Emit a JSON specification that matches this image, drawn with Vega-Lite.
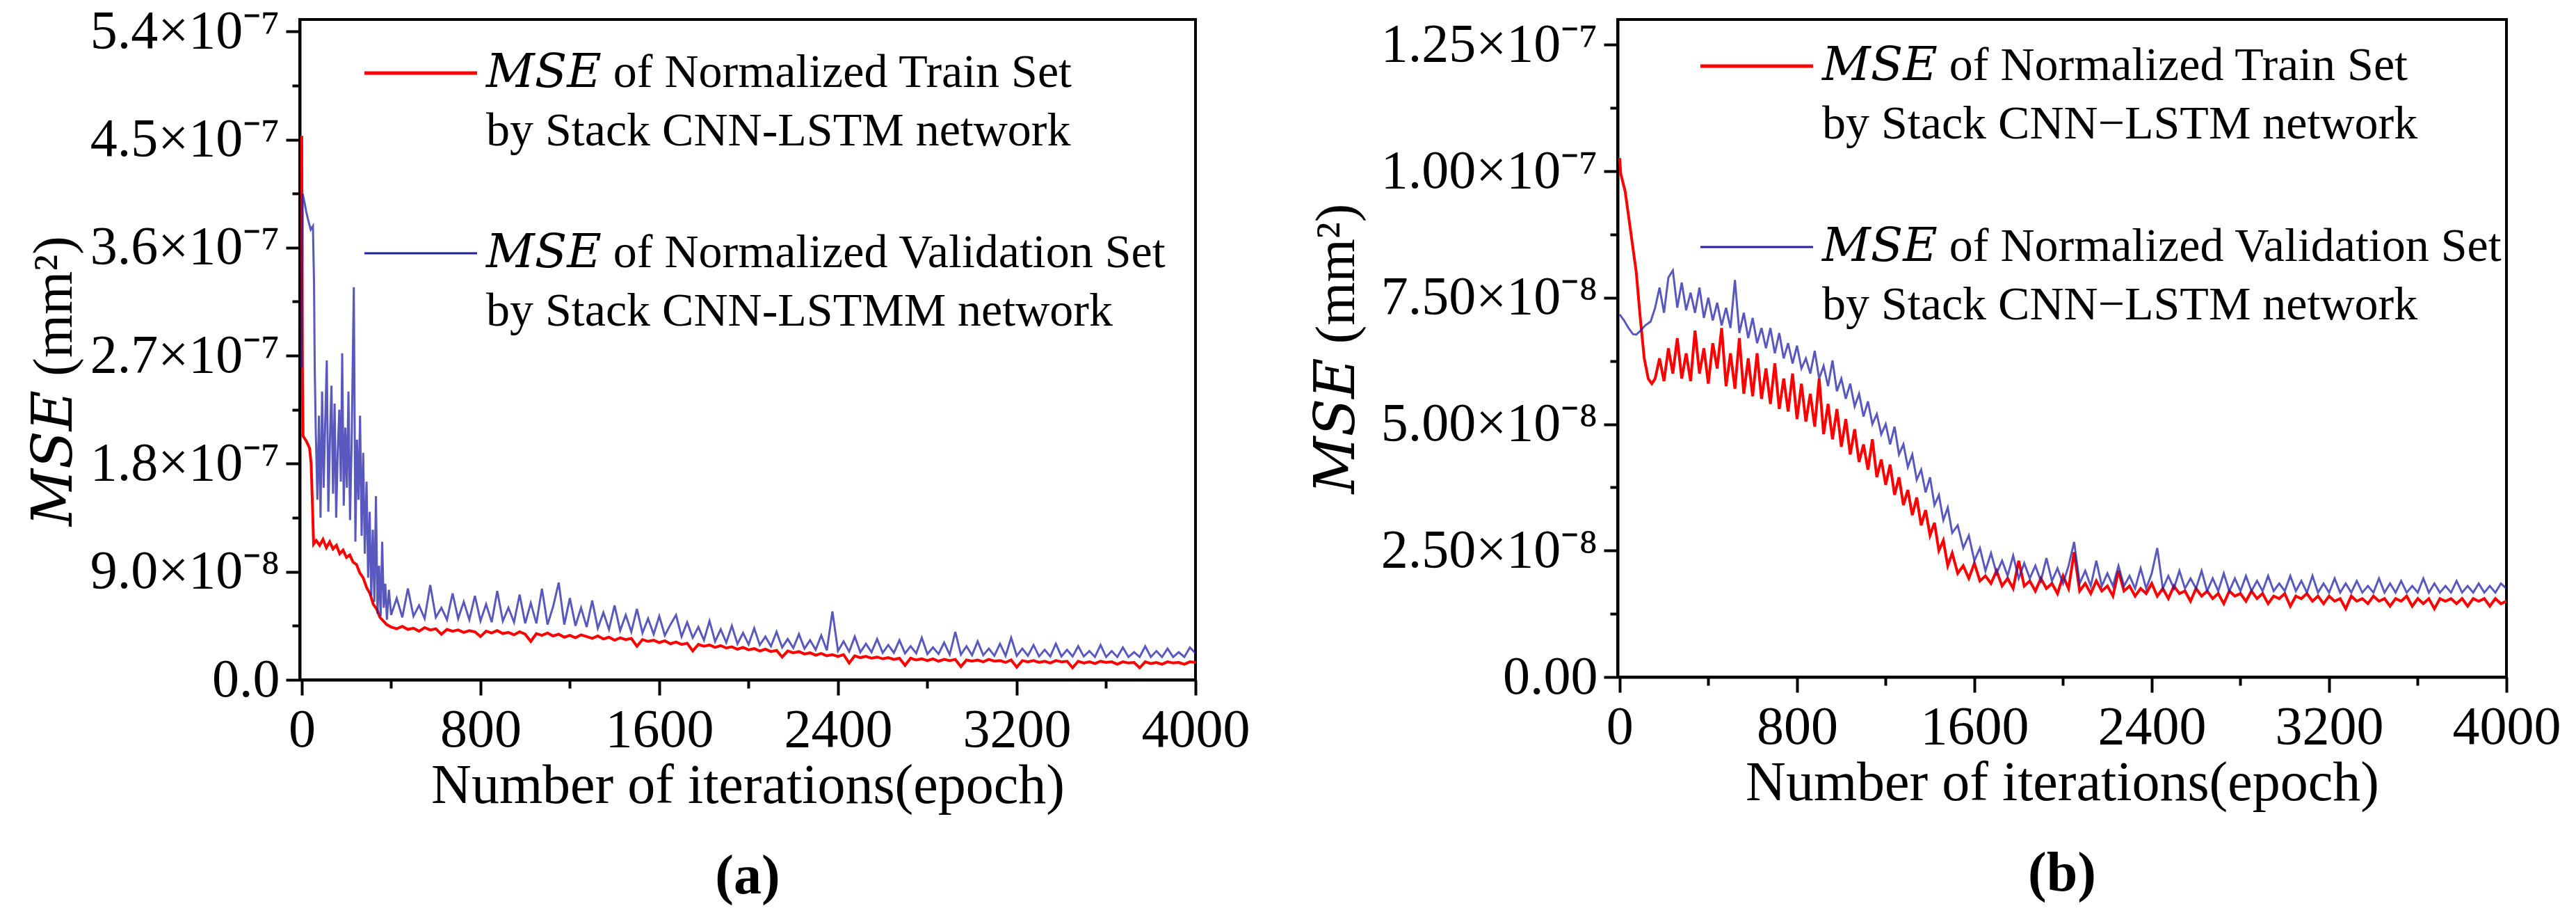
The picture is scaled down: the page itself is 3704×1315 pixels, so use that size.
{
  "$schema": "https://vega.github.io/schema/vega-lite/v6.json",
  "background": "white",
  "padding": {"left": 35, "top": 4, "right": 10, "bottom": 5},
  "bounds": "flush",
  "spacing": 607,
  "config": {
    "font": "Liberation Serif",
    "view": {"stroke": "black", "strokeWidth": 4},
    "axis": {
      "grid": false, "domainColor": "black", "domainWidth": 4,
      "tickColor": "black", "tickWidth": 4,
      "labelFont": "Liberation Serif", "labelFontSize": 78, "labelColor": "black", "labelLimit": 2000,
      "titleFont": "Liberation Serif, DejaVu Serif", "titleFontSize": 80, "titleFontWeight": "normal", "titleColor": "black",
      "labelFlush": false, "labelOverlap": false, "labelBound": false
    },
    "legend": {
      "orient": "none", "direction": "vertical", "padding": 0, "symbolType": "stroke", "symbolSize": 26244,
      "labelFont": "Liberation Serif, DejaVu Serif", "labelFontSize": 68, "labelColor": "black", "labelLimit": 3000,
      "labelOffset": 60, "labelBaseline": "middle"
    }
  },
  "resolve": {"scale": {"color": "independent"}, "legend": {"color": "independent"}},
  "datasets": {
    "a_train": [
      {"epoch":0,"mse":45.3e-8},{"epoch":3,"mse":26.0e-8},{"epoch":6,"mse":20.3e-8},{"epoch":20,"mse":19.9e-8},{"epoch":35,"mse":19.3e-8},{"epoch":42,"mse":18.0e-8},{"epoch":48,"mse":14.5e-8},{"epoch":53,"mse":11.3e-8},{"epoch":65,"mse":11.6e-8},{"epoch":80,"mse":11.2e-8},{"epoch":95,"mse":11.7e-8},{"epoch":110,"mse":11.0e-8},{"epoch":125,"mse":11.5e-8},{"epoch":140,"mse":10.9e-8},{"epoch":155,"mse":11.2e-8},{"epoch":170,"mse":10.5e-8},{"epoch":185,"mse":10.8e-8},{"epoch":200,"mse":10.2e-8},{"epoch":215,"mse":10.4e-8},{"epoch":230,"mse":9.8e-8},{"epoch":245,"mse":9.6e-8},{"epoch":260,"mse":8.9e-8},{"epoch":275,"mse":8.5e-8},{"epoch":290,"mse":7.7e-8},{"epoch":305,"mse":7.2e-8},{"epoch":320,"mse":6.3e-8},{"epoch":335,"mse":5.9e-8},{"epoch":350,"mse":5.2e-8},{"epoch":365,"mse":4.9e-8},{"epoch":380,"mse":4.6e-8},
      {"epoch":400,"mse":4.40e-8},{"epoch":425,"mse":4.25e-8},{"epoch":450,"mse":4.45e-8},{"epoch":475,"mse":4.20e-8},{"epoch":500,"mse":4.30e-8},{"epoch":525,"mse":4.05e-8},{"epoch":550,"mse":4.35e-8},{"epoch":575,"mse":4.15e-8},{"epoch":600,"mse":4.25e-8},{"epoch":625,"mse":3.80e-8},{"epoch":650,"mse":4.20e-8},{"epoch":675,"mse":4.05e-8},{"epoch":700,"mse":4.15e-8},{"epoch":725,"mse":3.95e-8},{"epoch":750,"mse":4.10e-8},{"epoch":775,"mse":4.00e-8},{"epoch":800,"mse":3.60e-8},{"epoch":825,"mse":4.05e-8},{"epoch":850,"mse":3.90e-8},{"epoch":875,"mse":4.10e-8},{"epoch":900,"mse":3.85e-8},{"epoch":925,"mse":3.95e-8},{"epoch":950,"mse":3.75e-8},{"epoch":975,"mse":4.00e-8},
      {"epoch":1000,"mse":3.80e-8},{"epoch":1025,"mse":3.20e-8},{"epoch":1050,"mse":3.85e-8},{"epoch":1075,"mse":3.70e-8},{"epoch":1100,"mse":3.90e-8},{"epoch":1125,"mse":3.65e-8},{"epoch":1150,"mse":3.80e-8},{"epoch":1175,"mse":3.55e-8},{"epoch":1200,"mse":3.70e-8},{"epoch":1225,"mse":3.50e-8},{"epoch":1250,"mse":3.75e-8},{"epoch":1275,"mse":3.60e-8},{"epoch":1300,"mse":3.45e-8},{"epoch":1325,"mse":3.65e-8},{"epoch":1350,"mse":3.40e-8},{"epoch":1375,"mse":3.55e-8},{"epoch":1400,"mse":3.30e-8},{"epoch":1425,"mse":3.50e-8},{"epoch":1450,"mse":3.35e-8},{"epoch":1475,"mse":3.45e-8},{"epoch":1500,"mse":2.80e-8},{"epoch":1525,"mse":3.35e-8},{"epoch":1550,"mse":3.20e-8},{"epoch":1575,"mse":3.30e-8},{"epoch":1600,"mse":3.10e-8},{"epoch":1625,"mse":3.25e-8},{"epoch":1650,"mse":3.00e-8},{"epoch":1675,"mse":3.15e-8},{"epoch":1700,"mse":2.95e-8},{"epoch":1725,"mse":3.05e-8},{"epoch":1750,"mse":2.40e-8},{"epoch":1775,"mse":2.95e-8},{"epoch":1800,"mse":2.80e-8},{"epoch":1825,"mse":2.90e-8},{"epoch":1850,"mse":2.70e-8},{"epoch":1875,"mse":2.85e-8},{"epoch":1900,"mse":2.65e-8},{"epoch":1925,"mse":2.75e-8},{"epoch":1950,"mse":2.55e-8},{"epoch":1975,"mse":2.70e-8},
      {"epoch":2000,"mse":2.50e-8},{"epoch":2025,"mse":2.60e-8},{"epoch":2050,"mse":2.40e-8},{"epoch":2075,"mse":2.55e-8},{"epoch":2100,"mse":2.35e-8},{"epoch":2125,"mse":2.45e-8},{"epoch":2150,"mse":1.90e-8},{"epoch":2175,"mse":2.40e-8},{"epoch":2200,"mse":2.25e-8},{"epoch":2225,"mse":2.35e-8},{"epoch":2250,"mse":2.15e-8},{"epoch":2275,"mse":2.25e-8},{"epoch":2300,"mse":2.05e-8},{"epoch":2325,"mse":2.20e-8},{"epoch":2350,"mse":2.00e-8},{"epoch":2375,"mse":2.10e-8},{"epoch":2400,"mse":1.95e-8},{"epoch":2425,"mse":2.10e-8},{"epoch":2450,"mse":1.40e-8},{"epoch":2475,"mse":2.00e-8},{"epoch":2500,"mse":1.85e-8},{"epoch":2525,"mse":1.95e-8},{"epoch":2550,"mse":1.80e-8},{"epoch":2575,"mse":1.90e-8},{"epoch":2600,"mse":1.75e-8},{"epoch":2625,"mse":1.85e-8},{"epoch":2650,"mse":1.70e-8},{"epoch":2675,"mse":1.80e-8},{"epoch":2700,"mse":1.20e-8},{"epoch":2725,"mse":1.80e-8},{"epoch":2750,"mse":1.65e-8},{"epoch":2775,"mse":1.75e-8},{"epoch":2800,"mse":1.60e-8},{"epoch":2825,"mse":1.75e-8},{"epoch":2850,"mse":1.55e-8},{"epoch":2875,"mse":1.70e-8},{"epoch":2900,"mse":1.60e-8},{"epoch":2925,"mse":1.70e-8},{"epoch":2950,"mse":1.10e-8},{"epoch":2975,"mse":1.65e-8},
      {"epoch":3000,"mse":1.55e-8},{"epoch":3025,"mse":1.65e-8},{"epoch":3050,"mse":1.50e-8},{"epoch":3075,"mse":1.70e-8},{"epoch":3100,"mse":1.55e-8},{"epoch":3125,"mse":1.60e-8},{"epoch":3150,"mse":1.45e-8},{"epoch":3175,"mse":1.65e-8},{"epoch":3200,"mse":1.05e-8},{"epoch":3225,"mse":1.60e-8},{"epoch":3250,"mse":1.50e-8},{"epoch":3275,"mse":1.60e-8},{"epoch":3300,"mse":1.45e-8},{"epoch":3325,"mse":1.55e-8},{"epoch":3350,"mse":1.40e-8},{"epoch":3375,"mse":1.60e-8},{"epoch":3400,"mse":1.50e-8},{"epoch":3425,"mse":1.55e-8},{"epoch":3450,"mse":1.00e-8},{"epoch":3475,"mse":1.55e-8},{"epoch":3500,"mse":1.40e-8},{"epoch":3525,"mse":1.50e-8},{"epoch":3550,"mse":1.35e-8},{"epoch":3575,"mse":1.55e-8},{"epoch":3600,"mse":1.45e-8},{"epoch":3625,"mse":1.50e-8},{"epoch":3650,"mse":1.30e-8},{"epoch":3675,"mse":1.50e-8},{"epoch":3700,"mse":1.40e-8},{"epoch":3725,"mse":1.45e-8},{"epoch":3750,"mse":1.00e-8},{"epoch":3775,"mse":1.50e-8},{"epoch":3800,"mse":1.35e-8},{"epoch":3825,"mse":1.45e-8},{"epoch":3850,"mse":1.30e-8},{"epoch":3875,"mse":1.50e-8},{"epoch":3900,"mse":1.40e-8},{"epoch":3925,"mse":1.45e-8},{"epoch":3950,"mse":1.30e-8},{"epoch":3975,"mse":1.50e-8},{"epoch":4000,"mse":1.45e-8}
    ],
    "a_val": [
      {"epoch":0,"mse":26.0e-8},{"epoch":4,"mse":40.5e-8},{"epoch":12,"mse":39.8e-8},{"epoch":20,"mse":39.0e-8},{"epoch":30,"mse":38.2e-8},{"epoch":40,"mse":37.5e-8},{"epoch":50,"mse":37.8e-8},{"epoch":55,"mse":33.0e-8},{"epoch":58,"mse":26.0e-8},{"epoch":63,"mse":20.5e-8},{"epoch":70,"mse":15.0e-8},{"epoch":77,"mse":22.0e-8},{"epoch":84,"mse":13.5e-8},{"epoch":91,"mse":24.0e-8},{"epoch":98,"mse":16.0e-8},{"epoch":105,"mse":21.5e-8},{"epoch":112,"mse":26.6e-8},{"epoch":119,"mse":14.0e-8},{"epoch":126,"mse":20.0e-8},{"epoch":133,"mse":24.5e-8},{"epoch":140,"mse":15.5e-8},{"epoch":147,"mse":23.0e-8},{"epoch":154,"mse":13.5e-8},{"epoch":161,"mse":19.0e-8},{"epoch":168,"mse":22.5e-8},{"epoch":175,"mse":16.5e-8},{"epoch":181,"mse":27.2e-8},{"epoch":188,"mse":14.5e-8},{"epoch":195,"mse":21.0e-8},{"epoch":202,"mse":16.0e-8},{"epoch":209,"mse":24.0e-8},{"epoch":216,"mse":13.3e-8},{"epoch":223,"mse":19.5e-8},{"epoch":233,"mse":32.7e-8},{"epoch":240,"mse":11.5e-8},{"epoch":247,"mse":20.0e-8},{"epoch":254,"mse":15.0e-8},{"epoch":261,"mse":22.0e-8},{"epoch":268,"mse":12.0e-8},{"epoch":275,"mse":18.9e-8},{"epoch":282,"mse":10.5e-8},{"epoch":290,"mse":16.5e-8},{"epoch":297,"mse":8.5e-8},{"epoch":304,"mse":14.0e-8},{"epoch":311,"mse":7.0e-8},{"epoch":318,"mse":12.5e-8},{"epoch":325,"mse":6.5e-8},{"epoch":332,"mse":15.3e-8},{"epoch":339,"mse":5.5e-8},{"epoch":346,"mse":9.5e-8},{"epoch":353,"mse":5.3e-8},{"epoch":360,"mse":11.5e-8},{"epoch":367,"mse":6.0e-8},{"epoch":374,"mse":8.0e-8},{"epoch":381,"mse":5.0e-8},{"epoch":390,"mse":7.5e-8},{"epoch":400,"mse":5.4e-8},
      {"epoch":425,"mse":6.8e-8},{"epoch":450,"mse":5.2e-8},{"epoch":475,"mse":7.6e-8},{"epoch":500,"mse":5.3e-8},{"epoch":525,"mse":6.2e-8},{"epoch":550,"mse":5.1e-8},{"epoch":575,"mse":7.9e-8},{"epoch":600,"mse":5.2e-8},{"epoch":625,"mse":6.0e-8},{"epoch":650,"mse":5.0e-8},{"epoch":675,"mse":7.2e-8},{"epoch":700,"mse":5.1e-8},{"epoch":725,"mse":6.5e-8},{"epoch":750,"mse":5.0e-8},{"epoch":775,"mse":7.0e-8},{"epoch":800,"mse":4.9e-8},{"epoch":825,"mse":6.3e-8},{"epoch":850,"mse":4.8e-8},{"epoch":875,"mse":7.4e-8},{"epoch":900,"mse":4.9e-8},{"epoch":925,"mse":6.0e-8},{"epoch":950,"mse":4.8e-8},{"epoch":975,"mse":7.1e-8},
      {"epoch":1000,"mse":4.7e-8},{"epoch":1025,"mse":6.4e-8},{"epoch":1050,"mse":4.7e-8},{"epoch":1075,"mse":7.6e-8},{"epoch":1100,"mse":4.6e-8},{"epoch":1125,"mse":6.1e-8},{"epoch":1150,"mse":8.1e-8},{"epoch":1175,"mse":4.6e-8},{"epoch":1200,"mse":6.8e-8},{"epoch":1225,"mse":4.5e-8},{"epoch":1250,"mse":6.0e-8},{"epoch":1275,"mse":4.4e-8},{"epoch":1300,"mse":6.6e-8},{"epoch":1325,"mse":4.3e-8},{"epoch":1350,"mse":5.6e-8},{"epoch":1375,"mse":4.2e-8},{"epoch":1400,"mse":6.2e-8},{"epoch":1425,"mse":4.1e-8},{"epoch":1450,"mse":5.4e-8},{"epoch":1475,"mse":4.0e-8},{"epoch":1500,"mse":5.9e-8},{"epoch":1525,"mse":3.9e-8},{"epoch":1550,"mse":5.1e-8},{"epoch":1575,"mse":3.8e-8},{"epoch":1600,"mse":5.3e-8},{"epoch":1625,"mse":3.7e-8},{"epoch":1650,"mse":4.6e-8},{"epoch":1675,"mse":5.4e-8},{"epoch":1700,"mse":3.6e-8},{"epoch":1725,"mse":4.8e-8},{"epoch":1750,"mse":3.5e-8},{"epoch":1775,"mse":4.4e-8},{"epoch":1800,"mse":3.3e-8},{"epoch":1825,"mse":4.9e-8},{"epoch":1850,"mse":3.2e-8},{"epoch":1875,"mse":4.2e-8},{"epoch":1900,"mse":3.1e-8},{"epoch":1925,"mse":4.5e-8},{"epoch":1950,"mse":3.0e-8},{"epoch":1975,"mse":3.9e-8},
      {"epoch":2000,"mse":2.95e-8},{"epoch":2025,"mse":4.3e-8},{"epoch":2050,"mse":2.9e-8},{"epoch":2075,"mse":3.6e-8},{"epoch":2100,"mse":2.8e-8},{"epoch":2125,"mse":4.0e-8},{"epoch":2150,"mse":2.7e-8},{"epoch":2175,"mse":3.4e-8},{"epoch":2200,"mse":2.65e-8},{"epoch":2225,"mse":3.8e-8},{"epoch":2250,"mse":2.6e-8},{"epoch":2275,"mse":3.3e-8},{"epoch":2300,"mse":2.5e-8},{"epoch":2325,"mse":3.7e-8},{"epoch":2350,"mse":2.45e-8},{"epoch":2375,"mse":5.7e-8},{"epoch":2400,"mse":2.4e-8},{"epoch":2425,"mse":3.2e-8},{"epoch":2450,"mse":2.35e-8},{"epoch":2475,"mse":3.6e-8},{"epoch":2500,"mse":2.3e-8},{"epoch":2525,"mse":3.0e-8},{"epoch":2550,"mse":2.3e-8},{"epoch":2575,"mse":3.4e-8},{"epoch":2600,"mse":2.25e-8},{"epoch":2625,"mse":2.9e-8},{"epoch":2650,"mse":2.25e-8},{"epoch":2675,"mse":3.3e-8},{"epoch":2700,"mse":2.2e-8},{"epoch":2725,"mse":2.8e-8},{"epoch":2750,"mse":2.2e-8},{"epoch":2775,"mse":3.5e-8},{"epoch":2800,"mse":2.15e-8},{"epoch":2825,"mse":2.7e-8},{"epoch":2850,"mse":2.15e-8},{"epoch":2875,"mse":3.1e-8},{"epoch":2900,"mse":2.1e-8},{"epoch":2925,"mse":4.0e-8},{"epoch":2950,"mse":2.1e-8},{"epoch":2975,"mse":2.8e-8},
      {"epoch":3000,"mse":2.05e-8},{"epoch":3025,"mse":3.2e-8},{"epoch":3050,"mse":2.05e-8},{"epoch":3075,"mse":2.6e-8},{"epoch":3100,"mse":2.0e-8},{"epoch":3125,"mse":3.0e-8},{"epoch":3150,"mse":2.0e-8},{"epoch":3175,"mse":3.5e-8},{"epoch":3200,"mse":2.0e-8},{"epoch":3225,"mse":2.6e-8},{"epoch":3250,"mse":2.0e-8},{"epoch":3275,"mse":2.9e-8},{"epoch":3300,"mse":1.95e-8},{"epoch":3325,"mse":2.5e-8},{"epoch":3350,"mse":1.95e-8},{"epoch":3375,"mse":3.0e-8},{"epoch":3400,"mse":1.95e-8},{"epoch":3425,"mse":2.5e-8},{"epoch":3450,"mse":1.95e-8},{"epoch":3475,"mse":2.8e-8},{"epoch":3500,"mse":1.95e-8},{"epoch":3525,"mse":2.4e-8},{"epoch":3550,"mse":1.9e-8},{"epoch":3575,"mse":2.9e-8},{"epoch":3600,"mse":1.9e-8},{"epoch":3625,"mse":2.4e-8},{"epoch":3650,"mse":1.9e-8},{"epoch":3675,"mse":2.7e-8},{"epoch":3700,"mse":1.9e-8},{"epoch":3725,"mse":2.3e-8},{"epoch":3750,"mse":1.9e-8},{"epoch":3775,"mse":2.8e-8},{"epoch":3800,"mse":1.9e-8},{"epoch":3825,"mse":2.4e-8},{"epoch":3850,"mse":1.9e-8},{"epoch":3875,"mse":2.6e-8},{"epoch":3900,"mse":1.9e-8},{"epoch":3925,"mse":2.3e-8},{"epoch":3950,"mse":1.9e-8},{"epoch":3975,"mse":2.7e-8},{"epoch":4000,"mse":2.2e-8}
    ],
    "b_train": [
      {"epoch":0,"mse":10.26e-8},{"epoch":5,"mse":9.95e-8},{"epoch":25,"mse":9.6e-8},{"epoch":50,"mse":8.8e-8},{"epoch":75,"mse":8.0e-8},{"epoch":93,"mse":7.1e-8},{"epoch":111,"mse":6.3e-8},{"epoch":129,"mse":5.9e-8},{"epoch":145,"mse":5.8e-8},
      {"epoch":160,"mse":5.9e-8},{"epoch":180,"mse":6.3e-8},{"epoch":200,"mse":5.85e-8},{"epoch":220,"mse":6.5e-8},{"epoch":240,"mse":6.0e-8},{"epoch":260,"mse":6.7e-8},{"epoch":280,"mse":5.9e-8},{"epoch":300,"mse":6.4e-8},{"epoch":320,"mse":5.85e-8},{"epoch":340,"mse":6.85e-8},{"epoch":360,"mse":6.0e-8},{"epoch":380,"mse":6.5e-8},{"epoch":400,"mse":5.8e-8},{"epoch":420,"mse":6.6e-8},{"epoch":440,"mse":6.1e-8},{"epoch":460,"mse":6.9e-8},{"epoch":480,"mse":5.75e-8},{"epoch":500,"mse":6.4e-8},{"epoch":520,"mse":5.7e-8},{"epoch":540,"mse":6.7e-8},{"epoch":560,"mse":5.6e-8},{"epoch":580,"mse":6.3e-8},{"epoch":600,"mse":5.55e-8},{"epoch":620,"mse":6.4e-8},{"epoch":640,"mse":5.5e-8},{"epoch":660,"mse":6.1e-8},{"epoch":680,"mse":5.4e-8},{"epoch":700,"mse":6.2e-8},{"epoch":720,"mse":5.3e-8},{"epoch":740,"mse":5.9e-8},{"epoch":760,"mse":5.25e-8},{"epoch":780,"mse":6.0e-8},{"epoch":800,"mse":5.1e-8},{"epoch":820,"mse":5.8e-8},{"epoch":840,"mse":5.05e-8},{"epoch":860,"mse":5.6e-8},{"epoch":880,"mse":4.95e-8},{"epoch":900,"mse":5.9e-8},{"epoch":920,"mse":4.8e-8},{"epoch":940,"mse":5.4e-8},{"epoch":960,"mse":4.7e-8},{"epoch":980,"mse":5.3e-8},
      {"epoch":1000,"mse":4.55e-8},{"epoch":1020,"mse":5.1e-8},{"epoch":1040,"mse":4.4e-8},{"epoch":1060,"mse":4.9e-8},{"epoch":1080,"mse":4.25e-8},{"epoch":1100,"mse":4.6e-8},{"epoch":1120,"mse":4.1e-8},{"epoch":1140,"mse":4.7e-8},{"epoch":1160,"mse":3.95e-8},{"epoch":1180,"mse":4.3e-8},{"epoch":1200,"mse":3.8e-8},{"epoch":1220,"mse":4.2e-8},{"epoch":1240,"mse":3.6e-8},{"epoch":1260,"mse":3.95e-8},{"epoch":1280,"mse":3.4e-8},{"epoch":1300,"mse":3.7e-8},{"epoch":1320,"mse":3.2e-8},{"epoch":1340,"mse":3.55e-8},{"epoch":1360,"mse":3.0e-8},{"epoch":1380,"mse":3.3e-8},{"epoch":1400,"mse":2.8e-8},{"epoch":1420,"mse":3.05e-8},{"epoch":1440,"mse":2.5e-8},{"epoch":1460,"mse":2.7e-8},{"epoch":1480,"mse":2.2e-8},{"epoch":1500,"mse":2.45e-8},
      {"epoch":1525,"mse":2.05e-8},{"epoch":1550,"mse":2.2e-8},{"epoch":1575,"mse":1.95e-8},{"epoch":1600,"mse":2.25e-8},{"epoch":1625,"mse":1.9e-8},{"epoch":1650,"mse":2.0e-8},{"epoch":1675,"mse":1.85e-8},{"epoch":1700,"mse":2.1e-8},{"epoch":1725,"mse":1.8e-8},{"epoch":1750,"mse":1.95e-8},{"epoch":1775,"mse":1.75e-8},{"epoch":1800,"mse":2.3e-8},{"epoch":1825,"mse":1.8e-8},{"epoch":1850,"mse":1.9e-8},{"epoch":1875,"mse":1.7e-8},{"epoch":1900,"mse":1.95e-8},{"epoch":1925,"mse":1.75e-8},{"epoch":1950,"mse":1.85e-8},{"epoch":1975,"mse":1.65e-8},
      {"epoch":2000,"mse":2.0e-8},{"epoch":2025,"mse":1.75e-8},{"epoch":2050,"mse":2.47e-8},{"epoch":2075,"mse":1.7e-8},{"epoch":2100,"mse":1.85e-8},{"epoch":2125,"mse":1.65e-8},{"epoch":2150,"mse":1.9e-8},{"epoch":2175,"mse":1.7e-8},{"epoch":2200,"mse":1.8e-8},{"epoch":2225,"mse":1.6e-8},{"epoch":2250,"mse":2.1e-8},{"epoch":2275,"mse":1.7e-8},{"epoch":2300,"mse":1.8e-8},{"epoch":2325,"mse":1.6e-8},{"epoch":2350,"mse":1.75e-8},{"epoch":2375,"mse":1.65e-8},{"epoch":2400,"mse":1.85e-8},{"epoch":2425,"mse":1.6e-8},{"epoch":2450,"mse":1.75e-8},{"epoch":2475,"mse":1.55e-8},{"epoch":2500,"mse":1.8e-8},{"epoch":2525,"mse":1.65e-8},{"epoch":2550,"mse":1.7e-8},{"epoch":2575,"mse":1.5e-8},{"epoch":2600,"mse":1.75e-8},{"epoch":2625,"mse":1.6e-8},{"epoch":2650,"mse":1.7e-8},{"epoch":2675,"mse":1.55e-8},{"epoch":2700,"mse":1.65e-8},{"epoch":2725,"mse":1.45e-8},{"epoch":2750,"mse":1.7e-8},{"epoch":2775,"mse":1.6e-8},{"epoch":2800,"mse":1.65e-8},{"epoch":2825,"mse":1.5e-8},{"epoch":2850,"mse":1.7e-8},{"epoch":2875,"mse":1.55e-8},{"epoch":2900,"mse":1.65e-8},{"epoch":2925,"mse":1.45e-8},{"epoch":2950,"mse":1.6e-8},{"epoch":2975,"mse":1.55e-8},
      {"epoch":3000,"mse":1.65e-8},{"epoch":3025,"mse":1.4e-8},{"epoch":3050,"mse":1.6e-8},{"epoch":3075,"mse":1.55e-8},{"epoch":3100,"mse":1.65e-8},{"epoch":3125,"mse":1.5e-8},{"epoch":3150,"mse":1.6e-8},{"epoch":3175,"mse":1.45e-8},{"epoch":3200,"mse":1.6e-8},{"epoch":3225,"mse":1.5e-8},{"epoch":3250,"mse":1.55e-8},{"epoch":3275,"mse":1.35e-8},{"epoch":3300,"mse":1.6e-8},{"epoch":3325,"mse":1.5e-8},{"epoch":3350,"mse":1.55e-8},{"epoch":3375,"mse":1.45e-8},{"epoch":3400,"mse":1.6e-8},{"epoch":3425,"mse":1.5e-8},{"epoch":3450,"mse":1.55e-8},{"epoch":3475,"mse":1.4e-8},{"epoch":3500,"mse":1.55e-8},{"epoch":3525,"mse":1.5e-8},{"epoch":3550,"mse":1.6e-8},{"epoch":3575,"mse":1.4e-8},{"epoch":3600,"mse":1.55e-8},{"epoch":3625,"mse":1.45e-8},{"epoch":3650,"mse":1.55e-8},{"epoch":3675,"mse":1.35e-8},{"epoch":3700,"mse":1.55e-8},{"epoch":3725,"mse":1.5e-8},{"epoch":3750,"mse":1.55e-8},{"epoch":3775,"mse":1.45e-8},{"epoch":3800,"mse":1.55e-8},{"epoch":3825,"mse":1.4e-8},{"epoch":3850,"mse":1.55e-8},{"epoch":3875,"mse":1.5e-8},{"epoch":3900,"mse":1.55e-8},{"epoch":3925,"mse":1.4e-8},{"epoch":3950,"mse":1.55e-8},{"epoch":3975,"mse":1.45e-8},{"epoch":4000,"mse":1.5e-8}
    ],
    "b_val": [
      {"epoch":0,"mse":7.17e-8},{"epoch":20,"mse":7.05e-8},{"epoch":40,"mse":6.9e-8},{"epoch":60,"mse":6.78e-8},{"epoch":75,"mse":6.77e-8},{"epoch":95,"mse":6.85e-8},{"epoch":115,"mse":6.95e-8},{"epoch":140,"mse":7.03e-8},
      {"epoch":160,"mse":7.3e-8},{"epoch":180,"mse":7.7e-8},{"epoch":200,"mse":7.2e-8},{"epoch":220,"mse":7.9e-8},{"epoch":240,"mse":8.04e-8},{"epoch":260,"mse":7.3e-8},{"epoch":280,"mse":7.8e-8},{"epoch":300,"mse":7.25e-8},{"epoch":320,"mse":7.6e-8},{"epoch":340,"mse":7.2e-8},{"epoch":360,"mse":7.7e-8},{"epoch":380,"mse":7.1e-8},{"epoch":400,"mse":7.5e-8},{"epoch":420,"mse":7.05e-8},{"epoch":440,"mse":7.4e-8},{"epoch":460,"mse":6.95e-8},{"epoch":480,"mse":7.3e-8},{"epoch":500,"mse":6.9e-8},{"epoch":520,"mse":7.85e-8},{"epoch":540,"mse":6.8e-8},{"epoch":560,"mse":7.2e-8},{"epoch":580,"mse":6.7e-8},{"epoch":600,"mse":7.1e-8},{"epoch":620,"mse":6.6e-8},{"epoch":640,"mse":6.9e-8},{"epoch":660,"mse":6.5e-8},{"epoch":680,"mse":6.9e-8},{"epoch":700,"mse":6.4e-8},{"epoch":720,"mse":6.8e-8},{"epoch":740,"mse":6.3e-8},{"epoch":760,"mse":6.6e-8},{"epoch":780,"mse":6.2e-8},{"epoch":800,"mse":6.55e-8},{"epoch":820,"mse":6.1e-8},{"epoch":840,"mse":6.3e-8},{"epoch":860,"mse":6.0e-8},{"epoch":880,"mse":6.45e-8},{"epoch":900,"mse":5.9e-8},{"epoch":920,"mse":6.15e-8},{"epoch":940,"mse":5.75e-8},{"epoch":960,"mse":6.26e-8},{"epoch":980,"mse":5.65e-8},
      {"epoch":1000,"mse":5.9e-8},{"epoch":1020,"mse":5.5e-8},{"epoch":1040,"mse":5.8e-8},{"epoch":1060,"mse":5.35e-8},{"epoch":1080,"mse":5.6e-8},{"epoch":1100,"mse":5.15e-8},{"epoch":1120,"mse":5.45e-8},{"epoch":1140,"mse":5.0e-8},{"epoch":1160,"mse":5.2e-8},{"epoch":1180,"mse":4.8e-8},{"epoch":1200,"mse":5.0e-8},{"epoch":1220,"mse":4.6e-8},{"epoch":1240,"mse":4.95e-8},{"epoch":1260,"mse":4.4e-8},{"epoch":1280,"mse":4.6e-8},{"epoch":1300,"mse":4.15e-8},{"epoch":1320,"mse":4.4e-8},{"epoch":1340,"mse":3.9e-8},{"epoch":1360,"mse":4.1e-8},{"epoch":1380,"mse":3.65e-8},{"epoch":1400,"mse":3.95e-8},{"epoch":1420,"mse":3.4e-8},{"epoch":1440,"mse":3.6e-8},{"epoch":1460,"mse":3.1e-8},{"epoch":1480,"mse":3.35e-8},{"epoch":1500,"mse":2.85e-8},
      {"epoch":1525,"mse":3.0e-8},{"epoch":1550,"mse":2.55e-8},{"epoch":1575,"mse":2.8e-8},{"epoch":1600,"mse":2.3e-8},{"epoch":1625,"mse":2.55e-8},{"epoch":1650,"mse":2.1e-8},{"epoch":1675,"mse":2.45e-8},{"epoch":1700,"mse":2.05e-8},{"epoch":1725,"mse":2.3e-8},{"epoch":1750,"mse":2.0e-8},{"epoch":1775,"mse":2.4e-8},{"epoch":1800,"mse":1.95e-8},{"epoch":1825,"mse":2.25e-8},{"epoch":1850,"mse":1.95e-8},{"epoch":1875,"mse":2.2e-8},{"epoch":1900,"mse":1.9e-8},{"epoch":1925,"mse":2.35e-8},{"epoch":1950,"mse":1.9e-8},{"epoch":1975,"mse":2.15e-8},
      {"epoch":2000,"mse":1.85e-8},{"epoch":2025,"mse":2.2e-8},{"epoch":2050,"mse":2.67e-8},{"epoch":2075,"mse":1.85e-8},{"epoch":2100,"mse":2.1e-8},{"epoch":2125,"mse":1.8e-8},{"epoch":2150,"mse":2.3e-8},{"epoch":2175,"mse":1.8e-8},{"epoch":2200,"mse":2.05e-8},{"epoch":2225,"mse":1.8e-8},{"epoch":2250,"mse":2.2e-8},{"epoch":2275,"mse":1.8e-8},{"epoch":2300,"mse":2.0e-8},{"epoch":2325,"mse":1.75e-8},{"epoch":2350,"mse":2.15e-8},{"epoch":2375,"mse":1.75e-8},{"epoch":2400,"mse":2.05e-8},{"epoch":2425,"mse":2.55e-8},{"epoch":2450,"mse":1.75e-8},{"epoch":2475,"mse":2.0e-8},{"epoch":2500,"mse":1.75e-8},{"epoch":2525,"mse":2.1e-8},{"epoch":2550,"mse":1.75e-8},{"epoch":2575,"mse":1.95e-8},{"epoch":2600,"mse":1.75e-8},{"epoch":2625,"mse":2.1e-8},{"epoch":2650,"mse":1.7e-8},{"epoch":2675,"mse":1.95e-8},{"epoch":2700,"mse":1.7e-8},{"epoch":2725,"mse":2.05e-8},{"epoch":2750,"mse":1.7e-8},{"epoch":2775,"mse":1.95e-8},{"epoch":2800,"mse":1.7e-8},{"epoch":2825,"mse":2.0e-8},{"epoch":2850,"mse":1.7e-8},{"epoch":2875,"mse":1.9e-8},{"epoch":2900,"mse":1.7e-8},{"epoch":2925,"mse":2.0e-8},{"epoch":2950,"mse":1.7e-8},{"epoch":2975,"mse":1.85e-8},
      {"epoch":3000,"mse":1.7e-8},{"epoch":3025,"mse":2.0e-8},{"epoch":3050,"mse":1.7e-8},{"epoch":3075,"mse":1.9e-8},{"epoch":3100,"mse":1.67e-8},{"epoch":3125,"mse":2.0e-8},{"epoch":3150,"mse":1.67e-8},{"epoch":3175,"mse":1.85e-8},{"epoch":3200,"mse":1.67e-8},{"epoch":3225,"mse":1.95e-8},{"epoch":3250,"mse":1.67e-8},{"epoch":3275,"mse":1.85e-8},{"epoch":3300,"mse":1.67e-8},{"epoch":3325,"mse":1.9e-8},{"epoch":3350,"mse":1.67e-8},{"epoch":3375,"mse":1.8e-8},{"epoch":3400,"mse":1.67e-8},{"epoch":3425,"mse":1.95e-8},{"epoch":3450,"mse":1.67e-8},{"epoch":3475,"mse":1.85e-8},{"epoch":3500,"mse":1.67e-8},{"epoch":3525,"mse":1.9e-8},{"epoch":3550,"mse":1.67e-8},{"epoch":3575,"mse":1.8e-8},{"epoch":3600,"mse":1.67e-8},{"epoch":3625,"mse":1.95e-8},{"epoch":3650,"mse":1.67e-8},{"epoch":3675,"mse":1.85e-8},{"epoch":3700,"mse":1.67e-8},{"epoch":3725,"mse":1.8e-8},{"epoch":3750,"mse":1.67e-8},{"epoch":3775,"mse":1.9e-8},{"epoch":3800,"mse":1.67e-8},{"epoch":3825,"mse":1.8e-8},{"epoch":3850,"mse":1.67e-8},{"epoch":3875,"mse":1.85e-8},{"epoch":3900,"mse":1.67e-8},{"epoch":3925,"mse":1.8e-8},{"epoch":3950,"mse":1.67e-8},{"epoch":3975,"mse":1.85e-8},{"epoch":4000,"mse":1.75e-8}
    ]
  },
  "hconcat": [
    {
      "width": 1288,
      "height": 949,
      "title": {"text": "(a)", "orient": "bottom", "anchor": "middle", "font": "Liberation Serif", "fontSize": 80, "fontWeight": "bold", "color": "black", "offset": 52},
      "encoding": {
        "x": {
          "field": "epoch", "type": "quantitative",
          "scale": {"domain": [-9, 4000], "nice": false, "zero": false},
          "axis": {
            "title": "Number of iterations(epoch)",
            "values": [0, 400, 800, 1200, 1600, 2000, 2400, 2800, 3200, 3600, 4000],
            "labelExpr": "datum.value % 800 == 0 ? format(datum.value, 'd') : ''",
            "tickSize": {"condition": {"test": "datum.value % 800 != 0", "value": 12}, "value": 22},
            "labelPadding": 11, "titlePadding": 2
          }
        },
        "y": {
          "field": "mse", "type": "quantitative",
          "scale": {"domain": [0, 5.5e-7], "nice": false, "zero": true},
          "axis": {
            "title": "𝑀𝑆𝐸 (mm²)",
            "titleX": -312, "titleY": 519,
            "values": [0, 4.5e-8, 9e-8, 1.35e-7, 1.8e-7, 2.25e-7, 2.7e-7, 3.15e-7, 3.6e-7, 4.05e-7, 4.5e-7, 4.95e-7, 5.4e-7],
            "labelExpr": "round(datum.value / 4.5e-8) % 2 == 1 ? '' : (datum.value == 0 ? '0.0' : (datum.value < 0.99e-7 ? format(datum.value * 1e8, '.1f') + '×10⁻⁸' : format(datum.value * 1e7, '.1f') + '×10⁻⁷'))",
            "tickSize": {"condition": {"test": "round(datum.value / 4.5e-8) % 2 == 1", "value": 11}, "value": 20},
            "labelPadding": 9
          }
        }
      },
      "layer": [
        {
          "data": {"name": "a_train"},
          "mark": {"type": "line", "strokeWidth": 4, "clip": true},
          "encoding": {
            "color": {
              "datum": "train",
              "scale": {"domain": ["train", "val"], "range": ["#ff0000", "#2020a8"]},
              "legend": {
                "legendX": 140, "legendY": 43, "rowPadding": 107,
                "labelExpr": "datum.value == 'train' ? ['𝑀𝑆𝐸 of Normalized Train Set', 'by Stack CNN-LSTM network'] : ['𝑀𝑆𝐸 of Normalized Validation Set', 'by Stack CNN-LSTMM network']",
                "encode": {
                  "labels": {"update": {"lineHeight": {"value": 84}, "dy": {"value": 0}}},
                  "symbols": {"update": {"strokeWidth": {"signal": "datum.value == 'train' ? 5 : 3"}, "stroke": {"signal": "datum.value == 'train' ? '#ff0000' : '#5858be'"}, "opacity": {"value": 1}}}
                }
              }
            }
          }
        },
        {
          "data": {"name": "a_val"},
          "mark": {"type": "line", "strokeWidth": 3, "opacity": 0.75, "clip": true},
          "encoding": {"color": {"datum": "val"}}
        }
      ]
    },
    {
      "width": 1278,
      "height": 945,
      "title": {"text": "(b)", "orient": "bottom", "anchor": "middle", "font": "Liberation Serif", "fontSize": 80, "fontWeight": "bold", "color": "black", "offset": 52},
      "encoding": {
        "x": {
          "field": "epoch", "type": "quantitative",
          "scale": {"domain": [-9, 4000], "nice": false, "zero": false},
          "axis": {
            "title": "Number of iterations(epoch)",
            "values": [0, 400, 800, 1200, 1600, 2000, 2400, 2800, 3200, 3600, 4000],
            "labelExpr": "datum.value % 800 == 0 ? format(datum.value, 'd') : ''",
            "tickSize": {"condition": {"test": "datum.value % 800 != 0", "value": 12}, "value": 22},
            "labelPadding": 11, "titlePadding": 2
          }
        },
        "y": {
          "field": "mse", "type": "quantitative",
          "scale": {"domain": [0, 1.3e-7], "nice": false, "zero": true},
          "axis": {
            "title": "𝑀𝑆𝐸 (mm²)",
            "titleX": -363,
            "values": [0, 1.25e-8, 2.5e-8, 3.75e-8, 5e-8, 6.25e-8, 7.5e-8, 8.75e-8, 1e-7, 1.125e-7, 1.25e-7],
            "labelExpr": "round(datum.value / 1.25e-8) % 2 == 1 ? '' : (datum.value == 0 ? '0.00' : (datum.value < 0.99e-7 ? format(datum.value * 1e8, '.2f') + '×10⁻⁸' : format(datum.value * 1e7, '.2f') + '×10⁻⁷'))",
            "tickSize": {"condition": {"test": "round(datum.value / 1.25e-8) % 2 == 1", "value": 11}, "value": 20},
            "labelPadding": 9
          }
        }
      },
      "layer": [
        {
          "data": {"name": "b_train"},
          "mark": {"type": "line", "strokeWidth": 4, "clip": true},
          "encoding": {
            "color": {
              "datum": "train",
              "scale": {"domain": ["train", "val"], "range": ["#ff0000", "#2020a8"]},
              "legend": {
                "legendX": 166, "legendY": 33, "rowPadding": 108,
                "labelExpr": "datum.value == 'train' ? ['𝑀𝑆𝐸 of Normalized Train Set', 'by Stack CNN−LSTM network'] : ['𝑀𝑆𝐸 of Normalized Validation Set', 'by Stack CNN−LSTM network']",
                "encode": {
                  "labels": {"update": {"lineHeight": {"value": 84}, "dy": {"value": 0}}},
                  "symbols": {"update": {"strokeWidth": {"signal": "datum.value == 'train' ? 5 : 3"}, "stroke": {"signal": "datum.value == 'train' ? '#ff0000' : '#5858be'"}, "opacity": {"value": 1}}}
                }
              }
            }
          }
        },
        {
          "data": {"name": "b_val"},
          "mark": {"type": "line", "strokeWidth": 3, "opacity": 0.75, "clip": true},
          "encoding": {"color": {"datum": "val"}}
        }
      ]
    }
  ]
}
